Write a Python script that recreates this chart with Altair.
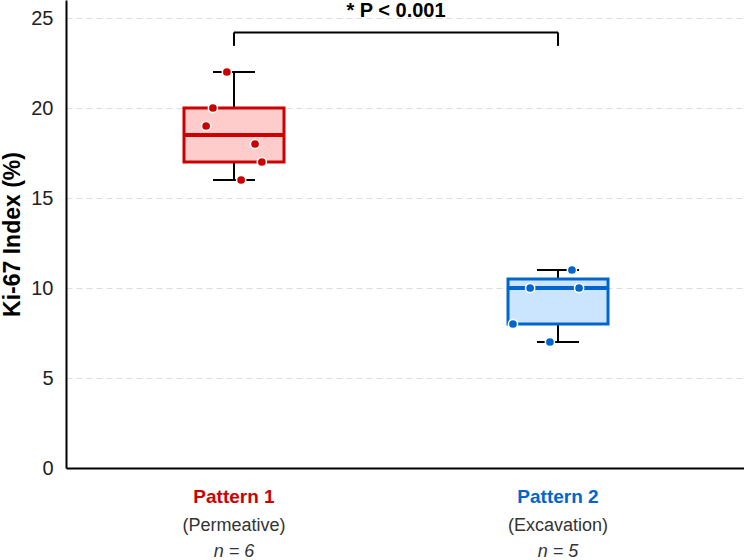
import altair as alt
import pandas as pd

# Group summaries (Ki-67 %)
groups = ["Pattern 1", "Pattern 2"]
subtitles = ["(Permeative)", "(Excavation)"]
n_labels = ["n = 6", "n = 5"]
group_pos = [0, 1]
q1 = [17, 8]
median = [18.5, 10]
q3 = [20, 10.5]
w_low = [16, 7]
w_high = [22, 11]

# Individual observations with horizontal jitter
pt_group = ["Pattern 1"] * 6 + ["Pattern 2"] * 5
pt_value = [22, 20, 19, 18, 17, 16, 11, 10, 10, 8, 7]
pt_jitter = [-0.022, -0.065, -0.086, 0.065, 0.086, 0.022,
             0.043, -0.086, 0.065, -0.139, -0.025]

stroke_colors = ["#CC0000", "#0066CC"]
fill_colors = ["#FFCCCC", "#CCE5FF"]

box_df = pd.DataFrame({
    "group": groups, "pos": group_pos, "q1": q1, "median": median,
    "q3": q3, "lo": w_low, "hi": w_high,
    "sub": subtitles, "n": n_labels,
})
pt_df = pd.DataFrame({
    "group": pt_group,
    "pos": [group_pos[groups.index(g)] for g in pt_group],
    "value": pt_value,
    "jit": pt_jitter,
})
pt_df["xj"] = pt_df["pos"] + pt_df["jit"]

x_scale = alt.Scale(domain=[-0.5185, 1.574], nice=False, zero=False, padding=0)
y_scale = alt.Scale(domain=[0, 26], nice=False, padding=0)
stroke_scale = alt.Scale(domain=groups, range=stroke_colors)
fill_scale = alt.Scale(domain=groups, range=fill_colors)

FONT = "Liberation Sans"

base = alt.Chart(box_df)

x_enc = alt.X("pos:Q", scale=x_scale,
              axis=alt.Axis(title=None, labels=False, ticks=False, grid=False,
                            domainColor="black", domainWidth=2))
y_axis = alt.Axis(title="Ki-67 Index (%)", values=[0, 5, 10, 15, 20, 25],
                  ticks=False, grid=True, gridDash=[6, 4], gridColor="#DDDDDD",
                  gridWidth=1, domainColor="black", domainWidth=2,
                  labelFont=FONT, labelFontSize=20, labelColor="#222222",
                  labelPadding=13, titleFont=FONT, titleFontSize=23,
                  titleFontWeight="bold", titleColor="black", titlePadding=6)

whisk_up = base.mark_rule(color="black", strokeWidth=2).encode(
    x=x_enc, y=alt.Y("q3:Q", scale=y_scale, axis=y_axis), y2="hi:Q")
whisk_dn = base.mark_rule(color="black", strokeWidth=2).encode(
    x=alt.X("pos:Q", scale=x_scale), y=alt.Y("lo:Q", scale=y_scale), y2="q1:Q")
cap_hi = base.mark_tick(color="black", size=42, thickness=2, opacity=1,
                        orient="horizontal").encode(
    x=alt.X("pos:Q", scale=x_scale), y=alt.Y("hi:Q", scale=y_scale))
cap_lo = base.mark_tick(color="black", size=42, thickness=2, opacity=1,
                        orient="horizontal").encode(
    x=alt.X("pos:Q", scale=x_scale), y=alt.Y("lo:Q", scale=y_scale))

box = base.mark_bar(size=100, strokeWidth=3, opacity=1).encode(
    x=alt.X("pos:Q", scale=x_scale),
    y=alt.Y("q1:Q", scale=y_scale), y2="q3:Q",
    fill=alt.Fill("group:N", scale=fill_scale, legend=None),
    stroke=alt.Stroke("group:N", scale=stroke_scale, legend=None),
)
med = base.mark_tick(size=100, thickness=4, opacity=1, orient="horizontal").encode(
    x=alt.X("pos:Q", scale=x_scale),
    y=alt.Y("median:Q", scale=y_scale),
    color=alt.Color("group:N", scale=stroke_scale, legend=None),
)

points = alt.Chart(pt_df).mark_circle(size=85, opacity=1, stroke="white",
                                      strokeWidth=1.5).encode(
    x=alt.X("xj:Q", scale=x_scale),
    y=alt.Y("value:Q", scale=y_scale),
    color=alt.Color("group:N", scale=stroke_scale, legend=None),
)

# Significance bracket
br_df = pd.DataFrame({"a": [0], "b": [1], "top": [24.2], "bot": [23.45],
                      "txt": ["* P < 0.001"], "mid": [0.5], "ty": [25.4]})
br = alt.Chart(br_df)
br_h = br.mark_rule(color="black", strokeWidth=2).encode(
    x=alt.X("a:Q", scale=x_scale), x2="b:Q", y=alt.Y("top:Q", scale=y_scale))
br_l = br.mark_rule(color="black", strokeWidth=2).encode(
    x=alt.X("a:Q", scale=x_scale), y=alt.Y("bot:Q", scale=y_scale), y2="top:Q")
br_r = br.mark_rule(color="black", strokeWidth=2).encode(
    x=alt.X("b:Q", scale=x_scale), y=alt.Y("bot:Q", scale=y_scale), y2="top:Q")
br_t = br.mark_text(font=FONT, fontSize=20, fontWeight="bold", color="black",
                    baseline="middle").encode(
    x=alt.X("mid:Q", scale=x_scale), y=alt.Y("ty:Q", scale=y_scale), text="txt:N")

# Category labels below the axis
lab1 = base.mark_text(font=FONT, fontSize=19, fontWeight="bold",
                      baseline="middle").encode(
    x=alt.X("pos:Q", scale=x_scale), y=alt.value(497), text="group:N",
    color=alt.Color("group:N", scale=stroke_scale, legend=None))
lab2 = base.mark_text(font=FONT, fontSize=18, color="#333333",
                      baseline="middle").encode(
    x=alt.X("pos:Q", scale=x_scale), y=alt.value(526), text="sub:N")
lab3 = base.mark_text(font=FONT, fontSize=18, fontStyle="italic", color="#333333",
                      baseline="middle").encode(
    x=alt.X("pos:Q", scale=x_scale), y=alt.value(552), text="n:N")

chart = alt.layer(
    whisk_up, whisk_dn, cap_hi, cap_lo, box, med, points,
    br_h, br_l, br_r, br_t, lab1, lab2, lab3,
).properties(
    width=678, height=468,
    autosize=alt.AutoSizeParams(type="none"),
    padding={"left": 66, "top": 0, "right": 0, "bottom": 92},
).configure_view(stroke=None).configure_axis(labelFont=FONT, titleFont=FONT)

chart.save("out.html", embed_options={"renderer": "svg", "actions": False})
